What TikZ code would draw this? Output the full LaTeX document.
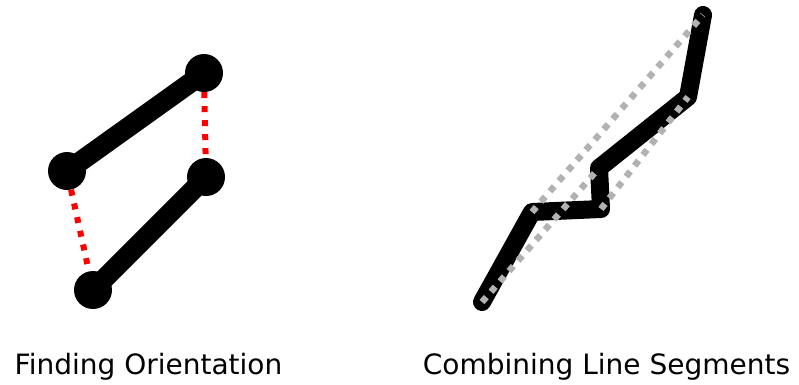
\documentclass[tikz,border=0pt]{standalone}
\usepackage{fontspec}
\setmainfont{DejaVu Sans}
\begin{document}
\begin{tikzpicture}[
    x=1pt, y=-1pt,
    joint/.style={circle, fill=black, minimum size=38pt, inner sep=0pt},
    bar/.style={draw=black, line width=20pt},
    gapline/.style={draw=red, line width=6pt, dash pattern=on 6pt off 8pt},
    track/.style={draw=black, line width=18pt, line cap=round, line join=round},
    fitline/.style={draw=black!30, line width=6.5pt, dash pattern=on 6.5pt off 7.2pt},
    caption/.style={font=\fontsize{28}{34}\selectfont, anchor=base}
  ]
  \useasboundingbox (0,0) rectangle (799,384);

  % left: two segments and their end points
  \node[joint] (a) at (204,73) {};
  \node[joint] (b) at (67,171) {};
  \node[joint] (c) at (206,177) {};
  \node[joint] (d) at (93,290) {};
  \draw[bar] (b.center) -- (a.center);
  \draw[bar] (d.center) -- (c.center);
  \draw[gapline] (a) -- (c);
  \draw[gapline] (b) -- (d);

  % right: broken line and merged segments
  \coordinate (p0) at (482,302);
  \coordinate (p1) at (532,212);
  \coordinate (p2) at (601,209);
  \coordinate (p3) at (599,168);
  \coordinate (p4) at (688,97);
  \coordinate (p5) at (703,15);
  \draw[track] (p0) -- (p1) -- (p2) -- (p3) -- (p4) -- (p5);
  \draw[fitline] (p0) -- (p3);
  \draw[fitline] (p1) -- (p5);
  \draw[fitline] (p2) -- (p4);

  % captions
  \node[caption] (orient) at (148.5,374) {Finding Orientation};
  \node[caption] (combine) at (606.5,374) {Combining Line Segments};
\end{tikzpicture}
\end{document}
